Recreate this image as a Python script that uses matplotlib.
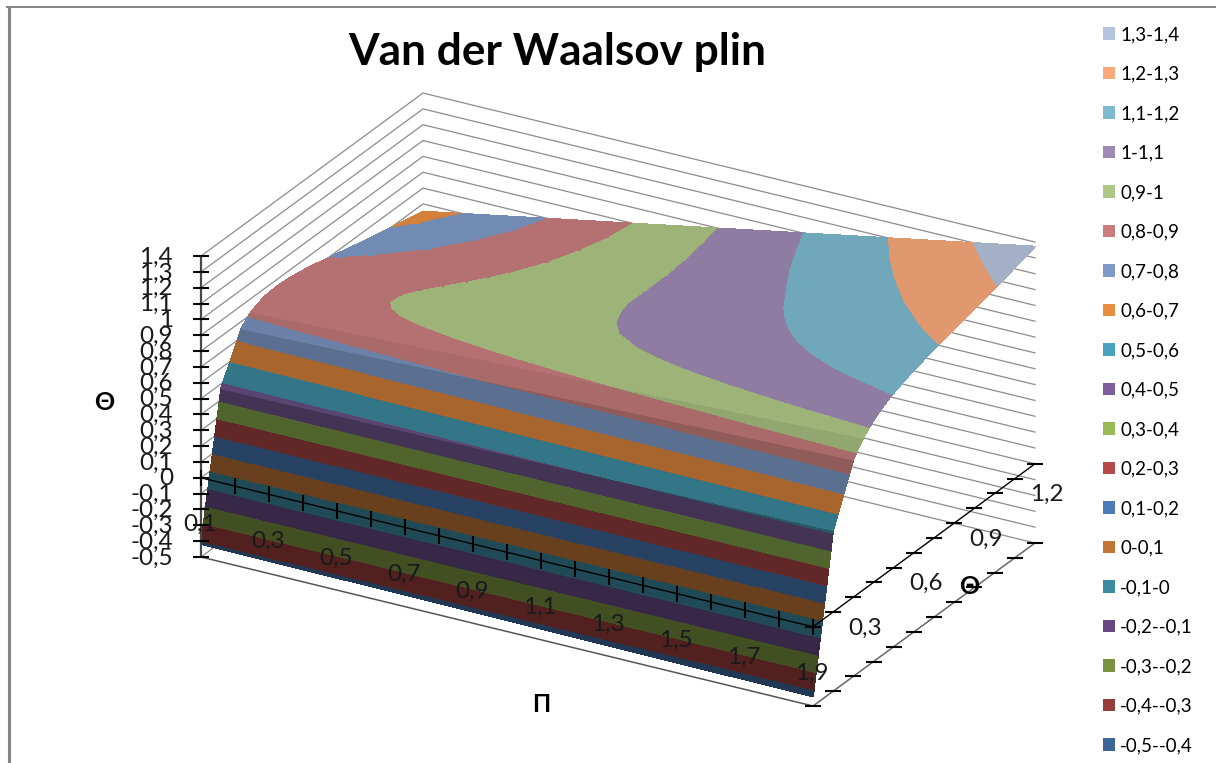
import numpy as np
import matplotlib
matplotlib.use('Agg')
import matplotlib.pyplot as plt
from matplotlib.colors import to_rgb
from matplotlib.patches import Patch

plt.rcParams['font.family'] = ['Lato', 'Open Sans', 'DejaVu Sans']

pi_vals = [0.1, 0.4, 0.7, 1.0, 1.3, 1.6, 1.9]
phi_vals = [0.30, 0.40, 0.50, 0.525, 0.55, 0.575, 0.60, 0.625, 0.65, 0.675, 0.70, 0.75,
            0.80, 0.85, 0.90, 0.95, 1.00, 1.10, 1.20, 1.30, 1.40]
# one row per phi, one column per pi
theta_vals = [
    [-0.418, -0.422, -0.425, -0.429, -0.433, -0.437, -0.440],
    [0.471, 0.479, 0.486, 0.494, 0.501, 0.509, 0.516],
    [0.756, 0.775, 0.794, 0.813, 0.831, 0.850, 0.869],
    [0.789, 0.811, 0.833, 0.854, 0.876, 0.897, 0.919],
    [0.814, 0.838, 0.863, 0.887, 0.911, 0.936, 0.960],
    [0.831, 0.859, 0.886, 0.913, 0.940, 0.967, 0.994],
    [0.843, 0.873, 0.903, 0.933, 0.963, 0.993, 1.023],
    [0.851, 0.884, 0.917, 0.949, 0.982, 1.015, 1.048],
    [0.855, 0.891, 0.926, 0.962, 0.998, 1.033, 1.069],
    [0.856, 0.895, 0.933, 0.972, 1.010, 1.049, 1.087],
    [0.856, 0.897, 0.938, 0.979, 1.021, 1.062, 1.103],
    [0.849, 0.896, 0.943, 0.990, 1.036, 1.083, 1.130],
    [0.838, 0.890, 0.943, 0.995, 1.048, 1.100, 1.153],
    [0.824, 0.882, 0.940, 0.998, 1.056, 1.114, 1.173],
    [0.808, 0.872, 0.936, 1.000, 1.063, 1.127, 1.191],
    [0.792, 0.861, 0.931, 1.000, 1.069, 1.139, 1.208],
    [0.775, 0.850, 0.925, 1.000, 1.075, 1.150, 1.225],
    [0.741, 0.828, 0.914, 1.000, 1.086, 1.173, 1.259],
    [0.710, 0.807, 0.905, 1.002, 1.100, 1.197, 1.295],
    [0.680, 0.788, 0.897, 1.006, 1.115, 1.224, 1.332],
    [0.652, 0.772, 0.892, 1.012, 1.132, 1.252, 1.372],
]
# surface lighting per phi strip, 1 = full legend colour
strip_light = [0.54, 0.72, 0.84, 0.84] + [0.90] * 16

levels = [-0.5, -0.4, -0.3, -0.2, -0.1, 0.0, 0.1, 0.2, 0.3, 0.4, 0.5, 0.6, 0.7, 0.8,
          0.9, 1.0, 1.1, 1.2, 1.3, 1.4]
band_labels = ['-0,5--0,4', '-0,4--0,3', '-0,3--0,2', '-0,2--0,1', '-0,1-0', '0-0,1',
               '0,1-0,2', '0,2-0,3', '0,3-0,4', '0,4-0,5', '0,5-0,6', '0,6-0,7',
               '0,7-0,8', '0,8-0,9', '0,9-1', '1-1,1', '1,1-1,2', '1,2-1,3', '1,3-1,4']
band_colors = ['#3d6597', '#963c3a', '#7b9341', '#644a81', '#3b8aa0', '#c27636',
               '#4a7ab8', '#b54a48', '#98b954', '#7c5f9e', '#4aa3bd', '#e98e40',
               '#7f9ac8', '#c97e7d', '#aec785', '#9f8ab5', '#7ebacf', '#fba97a', '#b5c3dc']

theta_labels = ['-0,5', '-0,4', '-0,3', '-0,2', '-0,1', '0', '0,1', '0,2', '0,3', '0,4',
                '0,5', '0,6', '0,7', '0,8', '0,9', '1', '1,1', '1,2', '1,3', '1,4']
pi_ticks = [0.1, 0.2, 0.3, 0.4, 0.5, 0.6, 0.7, 0.8, 0.9, 1.0, 1.1, 1.2, 1.3, 1.4, 1.5,
            1.6, 1.7, 1.8, 1.9]
pi_labelled = [0.1, 0.3, 0.5, 0.7, 0.9, 1.1, 1.3, 1.5, 1.7, 1.9]
pi_labels = ['0,1', '0,3', '0,5', '0,7', '0,9', '1,1', '1,3', '1,5', '1,7', '1,9']
phi_ticks = [0.3, 0.4, 0.5, 0.6, 0.7, 0.8, 0.9, 1.0, 1.1, 1.2, 1.3, 1.4]
phi_labelled = [0.3, 0.6, 0.9, 1.2]
phi_labels = ['0,3', '0,6', '0,9', '1,2']


def project(pi, phi, theta):
    # fixed oblique view of the box, result in figure pixels
    u = (np.asarray(pi) - 0.1) / 1.8
    v = (np.asarray(phi) - 0.3) / 1.1
    x = 201 + 612 * u + 222 * v
    y = 557 + 149 * u - 163 * v - 158.4 * (np.asarray(theta) + 0.5)
    return x, y


def line3(p0, p1, **kw):
    x, y = project([p0[0], p1[0]], [p0[1], p1[1]], [p0[2], p1[2]])
    ax.plot(x, y, solid_capstyle='butt', **kw)


fig = plt.figure(figsize=(12.16, 7.63), dpi=100)
ax = fig.add_axes([0, 0, 1, 1])
ax.axis('off')

# picture frame, cut off at the bottom and right
ax.plot([8.5, 8.5], [763, 6], color='#848484', lw=2.2, solid_capstyle='butt', zorder=1)
ax.plot([7, 1216], [6.5, 6.5], color='#848484', lw=1.4, zorder=1)

# wall gridlines
for z in levels:
    x, y = project([0.1, 0.1, 1.9], [0.3, 1.4, 1.4], [z, z, z])
    ax.plot(x, y, color='#8c8c8c', lw=0.9, zorder=1)

# surface, one strip of phi at a time so each can carry its own lighting
P, F = np.meshgrid(pi_vals, phi_vals)
Z = np.array(theta_vals)
X, Y = project(P, F, Z)
for i, lit in enumerate(strip_light):
    shaded = [tuple(np.array(to_rgb(c)) * lit) for c in band_colors]
    cs = ax.contourf(X[i:i + 2], Y[i:i + 2], Z[i:i + 2], levels=levels, colors=shaded, zorder=2)
    cs.set_edgecolor('face')
    cs.set_linewidth(0.5)

# floor edges
line3((0.1, 0.3, -0.5), (1.9, 0.3, -0.5), color='#555555', lw=1.1, zorder=4)
line3((1.9, 0.3, -0.5), (1.9, 1.4, -0.5), color='#666666', lw=1.1, zorder=4)
line3((0.1, 0.3, -0.5), (0.1, 0.3, 1.4), color='#484848', lw=1.6, zorder=4)

# axes at theta = 0
line3((0.1, 0.3, 0), (1.9, 0.3, 0), color='black', lw=1.0, zorder=4)
line3((1.9, 0.3, 0), (1.9, 1.4, 0), color='black', lw=1.0, zorder=4)

for z, lab in zip(levels, theta_labels):
    x, y = project(0.1, 0.3, z)
    ax.plot([x - 8.5, x + 7.5], [y, y], color='black', lw=1.5, solid_capstyle='butt', zorder=4)
    ax.text(173, y + 1, lab, ha='right', va='center', fontsize=17.5, color='#1a1a1a', zorder=5)

for p in pi_ticks:
    x, y = project(p, 0.3, 0)
    ax.plot([x, x], [y - 8, y + 8], color='black', lw=1.5, solid_capstyle='butt', zorder=4)
for p, lab in zip(pi_labelled, pi_labels):
    x, y = project(p, 0.3, 0)
    ax.text(x - 1, y + 47, lab, ha='center', va='center', fontsize=17.5, color='#1a1a1a', zorder=5)

for f in phi_ticks:
    for z in [-0.5, 0]:
        x, y = project(1.9, f, z)
        ax.plot([x - 8, x + 8], [y, y], color='black', lw=1.5, solid_capstyle='butt', zorder=4)
for f, lab in zip(phi_labelled, phi_labels):
    x, y = project(1.9, f, -0.5)
    ax.text(x + 52, y - 78, lab, ha='center', va='center', fontsize=17.5, color='#1a1a1a', zorder=5)

ax.text(557, 52, 'Van der Waalsov plin', ha='center', va='center', fontsize=31.8, fontweight='bold',
        color='black')
ax.text(104, 402, 'Θ', ha='center', va='center', fontsize=18, fontweight='bold', zorder=5)
ax.text(541, 704, 'Π', ha='center', va='center', fontsize=17, fontweight='bold', zorder=5)
ax.text(969, 586, 'Θ', ha='center', va='center', fontsize=18, fontweight='bold', zorder=5)

handles = [Patch(facecolor=c, edgecolor='none') for c in band_colors[::-1]]
ax.legend(handles, band_labels[::-1], loc='upper left', bbox_to_anchor=(1103 / 1216, 1 - 26 / 763),
          frameon=False, fontsize=13.5, labelspacing=1.2, handlelength=0.64, handleheight=0.64,
          handletextpad=0.27, borderpad=0, borderaxespad=0)

ax.set_xlim(0, 1216)
ax.set_ylim(763, 0)
fig.savefig('out.png', dpi=100)
